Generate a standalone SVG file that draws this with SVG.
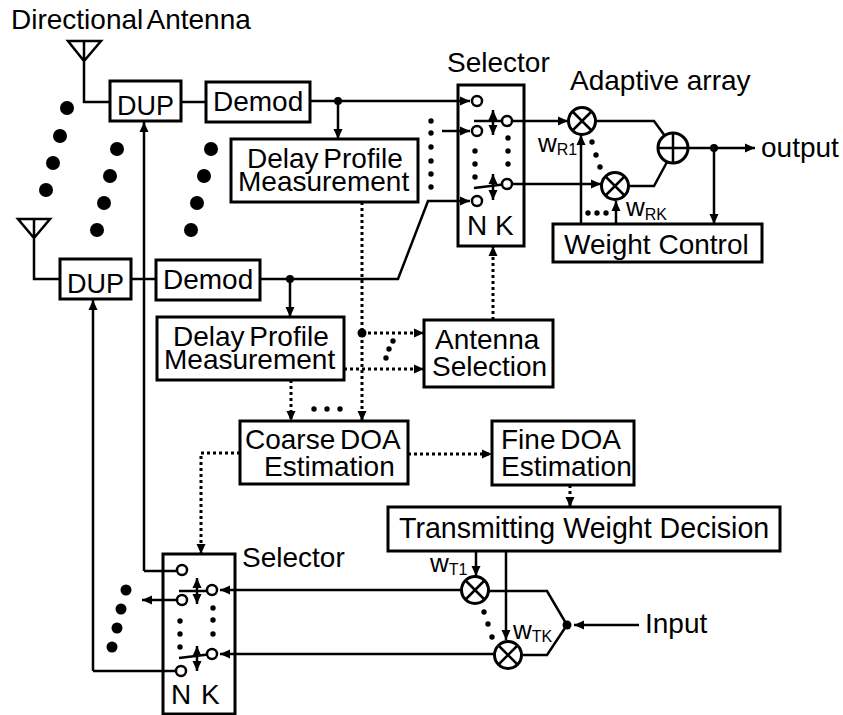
<svg xmlns="http://www.w3.org/2000/svg" width="843" height="715" viewBox="0 0 843 715">
<style>
text{font-family:"Liberation Sans",Arial,sans-serif;font-size:28px;fill:#000}
.n{word-spacing:-3px}
.w{font-size:26px}
.s{font-size:16px}
rect,.c{fill:#fff;stroke:#000;stroke-width:3}
rect.f{fill:none}
.o{fill:#fff;stroke:#000;stroke-width:2.5}
path{fill:none;stroke:#000;stroke-width:2.5}
.a{marker-end:url(#h)}
.d{stroke-dasharray:3 3;stroke-width:3}
.u{marker-start:url(#hs);marker-end:url(#h)}
circle.b{fill:#000;stroke:none}
</style>
<defs>
<marker id="h" markerUnits="userSpaceOnUse" markerWidth="12" markerHeight="10" refX="10" refY="5" orient="auto"><path d="M0 0.5L10 5L0 9.500Z" style="fill:#000;stroke:none"/></marker>
<marker id="hs" markerUnits="userSpaceOnUse" markerWidth="12" markerHeight="10" refX="0" refY="5" orient="auto"><path d="M10 0.5L0 5L10 9.500Z" style="fill:#000;stroke:none"/></marker>
</defs>
<g id="connectors">
<path d="M68 41H101L84 61ZM84 41V102H110M181 102H206"/>
<path class="a" d="M338 101V139"/>
<path d="M18 219H50L34 238ZM34 219V279H60M131 279H156"/>
<path class="a" d="M260 279H398L428 201H470"/>
<path class="a" d="M310 101H470"/>
<path class="a" d="M290 279V317"/>
<path class="a" d="M144 571V122"/>
<path class="a" d="M93 671V300"/>
<path class="d a" d="M362 202V421"/>
<path class="d a" d="M362 333H424"/>
<path class="d a" d="M344 369H424"/>
<path class="d a" d="M291 380V421"/>
<path class="d a" d="M493 320V246"/>
<path class="d a" d="M408 454H492"/>
<path class="d a" d="M240 453H201V554"/>
<path class="d a" d="M570 485V507"/>
<path class="a" d="M442 131H470"/>
<path class="a" d="M507 121H568"/>
<path class="a" d="M507 184H601"/>
<path d="M596 121H654L665 136M629 186H654L667 162"/>
<path class="a" d="M688 148H755"/>
<path class="a" d="M714 148V224"/>
<path class="a" d="M581 224V135"/>
<path class="a" d="M616 224V201"/>
<path class="a" d="M461 590H220"/>
<path class="a" d="M494 654H220"/>
<path class="a" d="M476 551V576"/>
<path class="a" d="M506 551V640"/>
<path d="M489 591H547L567 625L547 655H522"/>
<path class="a" d="M639 625H574"/>
<path d="M144 571H176M93 671H176"/>
<path class="a" d="M176 600H142"/>
</g>
<g id="dup1"><rect x="110" y="81" width="71" height="40"/><text x="117" y="115" style="font-size:27px">DUP</text></g>
<g id="demod1"><rect x="206" y="82" width="104" height="40"/><text x="213" y="111">Demod</text></g>
<g id="dup2"><rect x="60" y="259" width="71" height="40"/><text x="67" y="293" style="font-size:27px">DUP</text></g>
<g id="demod2"><rect x="156" y="260" width="104" height="40"/><text x="163" y="289">Demod</text></g>
<g id="delay1"><rect x="231" y="139" width="187" height="63"/><text class="n" x="247" y="168">Delay Profile</text><text x="238" y="191">Measurement</text></g>
<g id="delay2"><rect x="157" y="317" width="187" height="63"/><text class="n" x="173" y="346">Delay Profile</text><text x="164" y="369">Measurement</text></g>
<g id="antsel"><rect x="424" y="320" width="129" height="67"/><text x="435" y="349">Antenna</text><text x="432" y="376">Selection</text></g>
<g id="coarse"><rect x="240" y="421" width="168" height="63"/><text class="n" x="245" y="449">Coarse DOA</text><text x="264" y="476">Estimation</text></g>
<g id="fine"><rect x="492" y="421" width="142" height="64"/><text class="n" x="501" y="449">Fine DOA</text><text x="501" y="476">Estimation</text></g>
<g id="twd"><rect x="388" y="507" width="392" height="44"/><text x="399" y="538" style="font-size:28.600px">Transmitting Weight Decision</text></g>
<g id="wc"><rect x="553" y="224" width="209" height="38"/><text x="564" y="254">Weight Control</text></g>
<g id="sel1"><rect class="f" x="458" y="85" width="66" height="161"/>
<path d="M474 121H507M474 188L507 184"/><path class="u" d="M493 110V135"/><path class="u" d="M493 174V200"/>
<circle class="o" cx="477" cy="101" r="5"/><circle class="o" cx="477" cy="131" r="5"/><circle class="o" cx="477" cy="201" r="5"/><circle class="o" cx="507" cy="121" r="5"/><circle class="o" cx="507" cy="184" r="5"/>
<circle class="b" cx="475" cy="151" r="2.700"/><circle class="b" cx="475" cy="164" r="2.700"/><circle class="b" cx="475" cy="177" r="2.700"/><circle class="b" cx="508" cy="138" r="2.700"/><circle class="b" cx="508" cy="151" r="2.700"/><circle class="b" cx="508" cy="164" r="2.700"/>
<text x="467" y="235">N K</text></g>
<g id="sel2"><rect class="f" x="163" y="554" width="72" height="160"/>
<path d="M179 591H212M179 658L212 654"/><path class="u" d="M197 578V604"/><path class="u" d="M197 646V671"/>
<circle class="o" cx="182" cy="570" r="5"/><circle class="o" cx="182" cy="600" r="5"/><circle class="o" cx="181" cy="671" r="5"/><circle class="o" cx="212" cy="590" r="5"/><circle class="o" cx="212" cy="654" r="5"/>
<circle class="b" cx="180" cy="621" r="2.700"/><circle class="b" cx="180" cy="634" r="2.700"/><circle class="b" cx="180" cy="647" r="2.700"/><circle class="b" cx="213" cy="608" r="2.700"/><circle class="b" cx="213" cy="620" r="2.700"/><circle class="b" cx="213" cy="634" r="2.700"/>
<text x="171" y="704" style="word-spacing:2px">N K</text></g>
<g id="mr1"><circle class="c" cx="582" cy="121" r="13.500"/><path d="M572.500 111.500L591.500 130.500M591.500 111.500L572.500 130.500"/></g>
<g id="mrk"><circle class="c" cx="615" cy="186" r="13.500"/><path d="M605.500 176.500L624.500 195.500M624.500 176.500L605.500 195.500"/></g>
<g id="sum"><circle class="c" cx="673" cy="148" r="15"/><path d="M658 148H688M673 133V163"/></g>
<g id="mt1"><circle class="c" cx="475" cy="590" r="13.500"/><path d="M465.500 580.500L484.500 599.500M484.500 580.500L465.500 599.500"/></g>
<g id="mtk"><circle class="c" cx="508" cy="655" r="13.500"/><path d="M498.500 645.500L517.500 664.500M517.500 645.500L498.500 664.500"/></g>
<g id="junctions"><circle class="b" cx="338" cy="101" r="4"/><circle class="b" cx="290" cy="279" r="4"/><circle class="b" cx="714" cy="148" r="4"/><circle class="b" cx="362" cy="333" r="4.500"/><circle class="b" cx="567" cy="625" r="4.500"/></g>
<g id="dots">
<circle class="b" cx="67" cy="108" r="7"/><circle class="b" cx="60" cy="136" r="7"/><circle class="b" cx="53" cy="163" r="7"/><circle class="b" cx="46" cy="190" r="7"/>
<circle class="b" cx="117" cy="149" r="7"/><circle class="b" cx="110" cy="176" r="7"/><circle class="b" cx="104" cy="203" r="7"/><circle class="b" cx="97" cy="230" r="7"/>
<circle class="b" cx="211" cy="149" r="7"/><circle class="b" cx="204" cy="176" r="7"/><circle class="b" cx="197" cy="203" r="7"/><circle class="b" cx="191" cy="230" r="7"/>
<circle class="b" cx="126" cy="590" r="5.500"/><circle class="b" cx="121" cy="609" r="5.500"/><circle class="b" cx="117" cy="628" r="5.500"/><circle class="b" cx="112" cy="647" r="5.500"/>
<circle class="b" cx="431" cy="121" r="2.700"/><circle class="b" cx="431" cy="133" r="2.700"/><circle class="b" cx="431" cy="147" r="2.700"/><circle class="b" cx="431" cy="161" r="2.700"/><circle class="b" cx="431" cy="174" r="2.700"/><circle class="b" cx="431" cy="187" r="2.700"/>
<circle class="b" cx="588" cy="213" r="2.700"/><circle class="b" cx="597" cy="213" r="2.700"/><circle class="b" cx="606" cy="213" r="2.700"/>
<circle class="b" cx="592" cy="142" r="2.700"/><circle class="b" cx="596" cy="155" r="2.700"/><circle class="b" cx="600" cy="167" r="2.700"/>
<circle class="b" cx="314" cy="409" r="2.700"/><circle class="b" cx="327" cy="409" r="2.700"/><circle class="b" cx="340" cy="409" r="2.700"/>
<circle class="b" cx="393" cy="341" r="2.700"/><circle class="b" cx="389" cy="349" r="2.700"/><circle class="b" cx="386" cy="358" r="2.700"/>
<circle class="b" cx="484" cy="612" r="2.700"/><circle class="b" cx="488" cy="624" r="2.700"/><circle class="b" cx="492" cy="637" r="2.700"/>
</g>
<g id="labels">
<text class="n" x="11" y="29">Directional Antenna</text>
<text x="447" y="72">Selector</text>
<text x="570" y="90">Adaptive array</text>
<text x="761" y="157">output</text>
<text x="242" y="567">Selector</text>
<text x="645" y="633">Input</text>
<text class="w" x="538" y="152">w<tspan class="s" dy="3">R1</tspan></text>
<text class="w" x="626" y="216">w<tspan class="s" dy="4">RK</tspan></text>
<text class="w" x="430" y="572">w<tspan class="s" dy="3">T1</tspan></text>
<text class="w" x="513" y="639">w<tspan class="s" dy="3">TK</tspan></text>
</g>
</svg>
